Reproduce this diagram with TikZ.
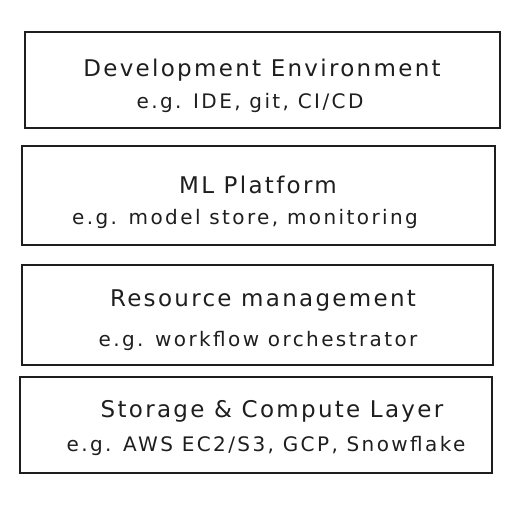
\documentclass[tikz,border=0pt]{standalone}
\usepackage{fontspec}
\newfontfamily\sketchtitle{DejaVu Sans}[LetterSpace=10]
\newfontfamily\sketchsub{DejaVu Sans}[LetterSpace=12]
\definecolor{ink}{HTML}{1E1E1E}
\tikzset{
  layer/.style={draw=ink, line width=1.4pt},
  title/.style={text=ink, font=\sketchtitle\fontsize{23}{26}\selectfont},
  sub/.style={text=ink, font=\sketchsub\fontsize{20}{23}\selectfont}
}

\begin{document}
\begin{tikzpicture}[x=1pt,y=-1pt]
  \useasboundingbox (0,0) rectangle (516,506);

  % layer boxes, top to bottom
  \draw[layer] (25,32) rectangle (500,128);
  \draw[layer] (22,146) rectangle (495,245);
  \draw[layer] (22,265) rectangle (493,365);
  \draw[layer] (20,377) rectangle (492,473);

  % titles and examples
  \node[title] (dev) at (262,70) {Development Environment};
  \node[sub] (devex) at (250,103) {e.g. IDE, git, CI/CD};

  \node[title] (ml) at (258,185) {ML Platform};
  \node[sub] (mlex) at (245,219) {e.g. model store, monitoring};

  \node[title] (res) at (263,301) {Resource management};
  \node[sub] (resex) at (258,341) {e.g. workflow orchestrator};

  \node[title] (stor) at (272,411) {Storage \& Compute Layer};
  \node[sub] (storex) at (266,446) {e.g. AWS EC2/S3, GCP, Snowflake};
\end{tikzpicture}
\end{document}
